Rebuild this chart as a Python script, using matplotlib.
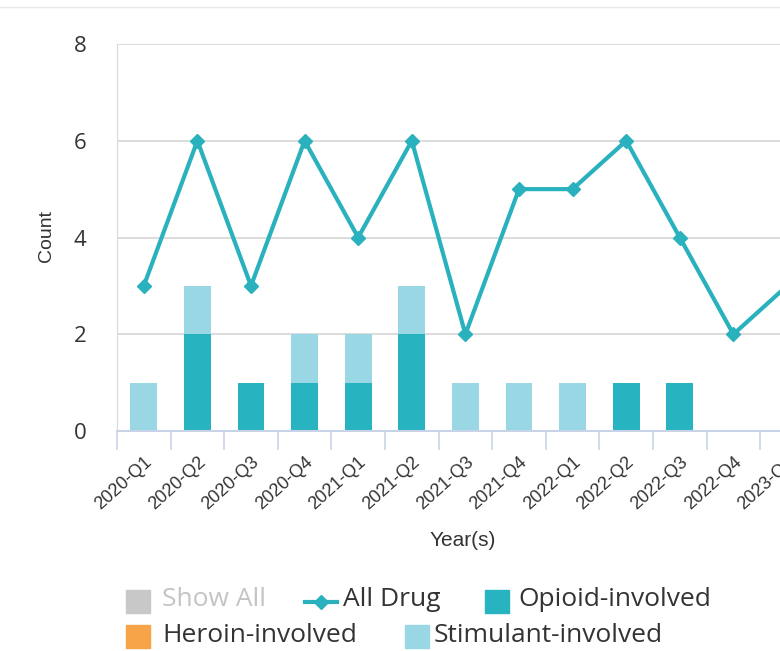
import matplotlib.pyplot as plt
from matplotlib.patches import Rectangle
from matplotlib.lines import Line2D

quarters = ["2020-Q1", "2020-Q2", "2020-Q3", "2020-Q4", "2021-Q1", "2021-Q2",
            "2021-Q3", "2021-Q4", "2022-Q1", "2022-Q2", "2022-Q3", "2022-Q4", "2023-Q1"]
all_drug = [3, 6, 3, 6, 4, 6, 2, 5, 5, 6, 4, 2, 3]
opioid = [0, 2, 1, 1, 1, 2, 0, 0, 0, 1, 1, 0, 0]
heroin = [0, 0, 0, 0, 0, 0, 0, 0, 0, 0, 0, 0, 0]
stimulant = [1, 1, 0, 1, 1, 1, 1, 1, 1, 0, 0, 0, 0]

c_line = "#2AB1BE"
c_opioid = "#27B3BF"
c_heroin = "#F7A448"
c_stim = "#98D7E3"
c_grey = "#C8C8C8"

fig = plt.figure(figsize=(7.8, 6.51), dpi=100)
W, H = 780, 651

# plot area extends past right edge (cut off like the screenshot)
left, top, bottom = 117, 44, 431
step = 53.6
ax = fig.add_axes([left / W, 1 - bottom / H, 13 * step / W, (bottom - top) / H])

x = list(range(len(quarters)))
ax.bar(x, opioid, width=0.5, color=c_opioid, zorder=2)
base = [o + h for o, h in zip(opioid, heroin)]
ax.bar(x, heroin, width=0.5, bottom=opioid, color=c_heroin, zorder=2)
ax.bar(x, stimulant, width=0.5, bottom=base, color=c_stim, zorder=2)
ax.plot(x, all_drug, color=c_line, lw=3, marker="D", markersize=7, zorder=3,
        clip_on=False)

ax.set_xlim(-0.5, 12.5)
ax.set_ylim(0, 8)
ax.set_yticks([0, 2, 4, 6, 8])
ax.grid(axis="y", color="#D6D6D6", lw=1.2, zorder=0)
ax.set_axisbelow(True)

for s in ["top", "right"]:
    ax.spines[s].set_visible(False)
ax.spines["left"].set_color("#DADADA")
ax.spines["bottom"].set_color("#C9D3E8")
ax.spines["bottom"].set_linewidth(1.5)

ax.set_xticks([i - 0.5 for i in range(14)], minor=False)
ax.set_xticklabels([])
ax.tick_params(axis="x", which="major", length=14, color="#C9D3E8", width=1.2)
ax.set_xticks(x, minor=True)
ax.set_xticklabels(quarters, minor=True, rotation=42, ha="right",
                   rotation_mode="anchor", fontsize=13, family="Liberation Sans",
                   color="#333333")
ax.tick_params(axis="x", which="minor", length=0, pad=16)
ax.tick_params(axis="y", length=0, labelsize=16, labelcolor="#333333", pad=22)
for t in ax.get_yticklabels():
    t.set_family("Open Sans")

fig.text(463 / W, 1 - 540 / H, "Year(s)", ha="center", va="center", fontsize=15,
         family="Liberation Sans", color="#333333")
fig.text(46 / W, 1 - 236 / H, "Count", ha="center", va="center", rotation=90,
         fontsize=14, family="Liberation Sans", color="#333333")

# top divider line of the page
fig.add_artist(Line2D([0, 1], [1 - 7 / H, 1 - 7 / H], color="#E8E8E8", lw=1))

# legend, drawn by hand to keep highcharts flow layout
def sq(px, py, color):
    fig.add_artist(Rectangle((px / W, 1 - (py + 23) / H), 24 / W, 23 / H,
                             color=color, transform=fig.transFigure))

def label(px, py, txt, color="#333333"):
    fig.text(px / W, 1 - py / H, txt, ha="left", va="center", fontsize=19,
             family="Open Sans", color=color)

sq(126, 590, c_grey)
label(162, 600, "Show All", "#C4C4C4")
fig.add_artist(Line2D([305 / W, 337 / W], [1 - 602 / H] * 2, color=c_line, lw=3,
                      transform=fig.transFigure))
fig.add_artist(Line2D([321 / W], [1 - 602 / H], color=c_line, marker="D",
                      markersize=7, transform=fig.transFigure))
label(343, 600, "All Drug")
sq(485, 590, c_opioid)
label(518, 600, "Opioid-involved")
sq(126, 625, c_heroin)
label(162, 635, "Heroin-involved")
sq(405, 625, c_stim)
label(434, 635, "Stimulant-involved")

fig.savefig("out.png", dpi=100)
